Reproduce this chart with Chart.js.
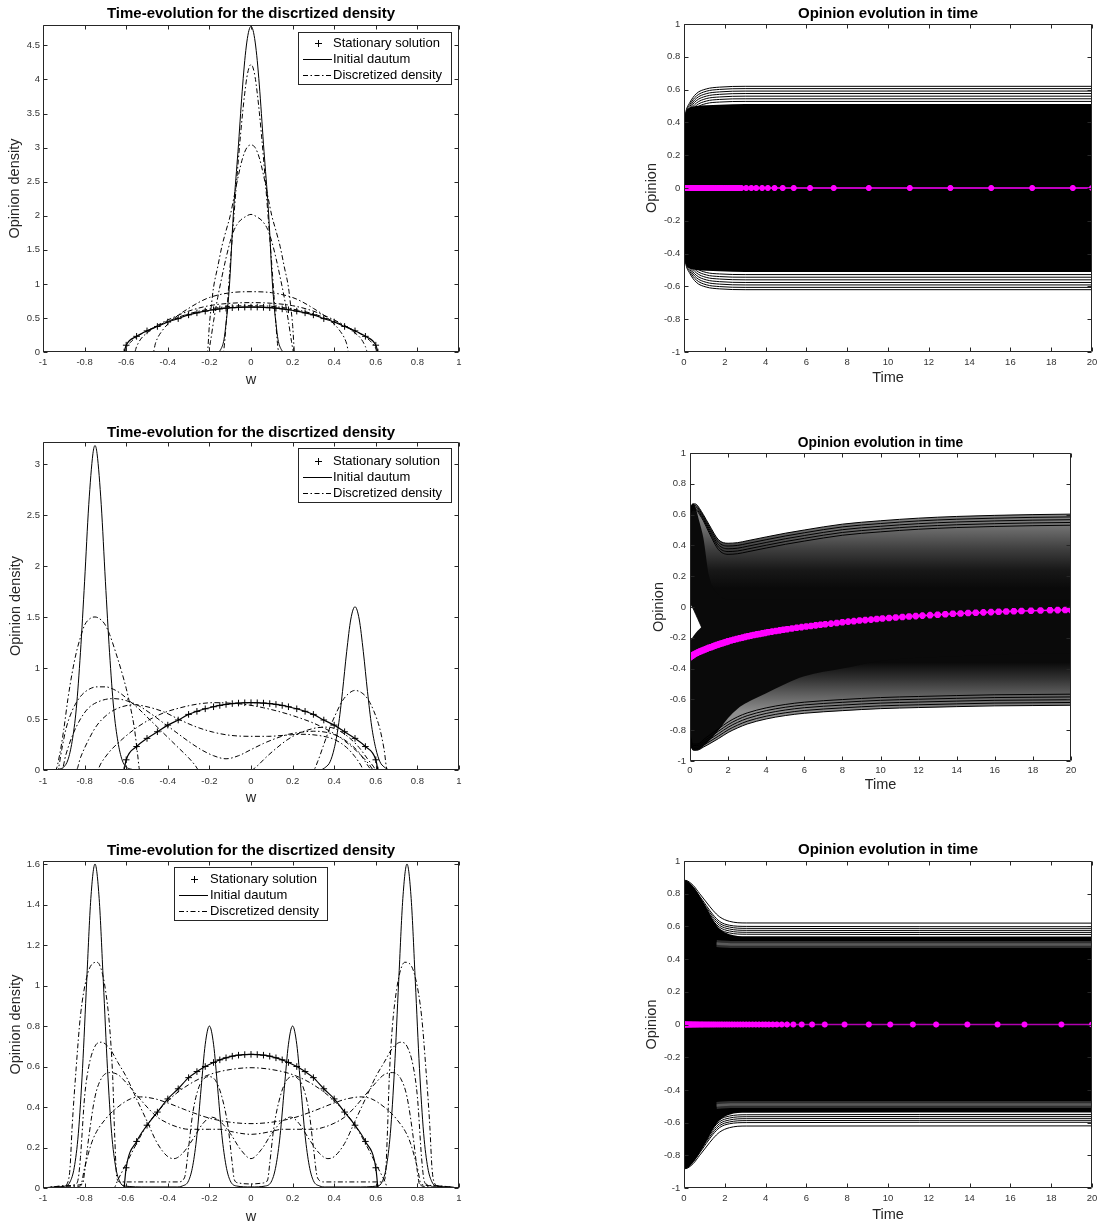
<!DOCTYPE html>
<html><head><meta charset="utf-8">
<script src="https://cdn.jsdelivr.net/npm/chart.js@4.4.1/dist/chart.umd.min.js"></script>
<style>
html,body{margin:0;padding:0;background:#fff;overflow:hidden;width:1097px;height:1226px;}
.p{position:absolute;} canvas{display:block;}
</style></head><body>
<div class="p" style="left:0;top:0"><canvas id="c1" width="470" height="395"></canvas></div>
<div class="p" style="left:620px;top:0"><canvas id="c2" width="477" height="395"></canvas></div>
<div class="p" style="left:0;top:417px"><canvas id="c3" width="470" height="396"></canvas></div>
<div class="p" style="left:620px;top:421px"><canvas id="c4" width="477" height="380"></canvas></div>
<div class="p" style="left:0;top:836px"><canvas id="c5" width="470" height="390"></canvas></div>
<div class="p" style="left:620px;top:836px"><canvas id="c6" width="477" height="390"></canvas></div>
<script>
// ---------------- text ----------------
const TITLE_LEFT = 'Time-evolution for the discrtized density';
const TITLE_RIGHT = 'Opinion evolution in time';
const LEG = ['Stationary solution', 'Initial dautum', 'Discretized density'];
const XLAB_LEFT = 'w', YLAB_LEFT = 'Opinion density', XLAB_RIGHT = 'Time', YLAB_RIGHT = 'Opinion';

// ---------------- left column data: [w, density] ----------------
const STAT = [[-0.61,0],[-0.6,0.1],[-0.55,0.23],[-0.5,0.31],[-0.45,0.375],[-0.4,0.44],[-0.35,0.49],[-0.3,0.545],[-0.26,0.575],[-0.22,0.6],[-0.18,0.62],[-0.15,0.633],[-0.12,0.643],[-0.09,0.651],[-0.06,0.656],[-0.03,0.659],[0,0.66],[0.03,0.659],[0.06,0.656],[0.09,0.651],[0.12,0.643],[0.15,0.633],[0.18,0.62],[0.22,0.6],[0.26,0.575],[0.3,0.545],[0.35,0.49],[0.4,0.44],[0.45,0.375],[0.5,0.31],[0.55,0.23],[0.6,0.1],[0.61,0]];

const P1_INIT = [[-1,0],[-0.2,0],[-0.16,0],[-0.145,0.04],[-0.13,0.18],[-0.12,0.42],[-0.11,0.72],[-0.1,1.15],[-0.09,1.75],[-0.08,2.25],[-0.07,2.65],[-0.06,3.05],[-0.05,3.5],[-0.04,3.92],[-0.03,4.28],[-0.02,4.55],[-0.01,4.72],[0,4.78],[0.01,4.72],[0.02,4.55],[0.03,4.28],[0.04,3.92],[0.05,3.5],[0.06,3.05],[0.07,2.65],[0.08,2.25],[0.09,1.75],[0.1,1.15],[0.11,0.72],[0.12,0.42],[0.13,0.18],[0.145,0.04],[0.16,0],[0.2,0],[1,0]];
const P1_D1 = [[-1,0],[-0.135,0],[-0.13,0.05],[-0.12,0.4],[-0.11,0.85],[-0.1,1.28],[-0.09,1.68],[-0.08,2.08],[-0.07,2.47],[-0.06,2.85],[-0.05,3.2],[-0.04,3.52],[-0.03,3.8],[-0.02,4.03],[-0.01,4.17],[0,4.22],[0.01,4.17],[0.02,4.03],[0.03,3.8],[0.04,3.52],[0.05,3.2],[0.06,2.85],[0.07,2.47],[0.08,2.08],[0.09,1.68],[0.1,1.28],[0.11,0.85],[0.12,0.4],[0.13,0.05],[0.135,0],[1,0]];
const P1_D2 = [[-1,0],[-0.21,0],[-0.2,0.4],[-0.19,0.7],[-0.18,0.95],[-0.16,1.25],[-0.14,1.55],[-0.12,1.78],[-0.1,2.0],[-0.08,2.3],[-0.06,2.6],[-0.04,2.85],[-0.02,3.0],[0,3.04],[0.02,3.0],[0.04,2.85],[0.06,2.6],[0.08,2.3],[0.1,2.0],[0.12,1.78],[0.14,1.55],[0.16,1.25],[0.18,0.95],[0.19,0.7],[0.2,0.4],[0.21,0],[1,0]];
const P1_D3 = [[-1,0],[-0.205,0],[-0.195,0.15],[-0.18,0.45],[-0.16,0.8],[-0.14,1.1],[-0.12,1.38],[-0.1,1.62],[-0.08,1.8],[-0.055,1.92],[-0.03,1.98],[0,2.02],[0.03,1.98],[0.055,1.92],[0.08,1.8],[0.1,1.62],[0.12,1.38],[0.14,1.1],[0.16,0.8],[0.18,0.45],[0.195,0.15],[0.205,0],[1,0]];
const P1_D4 = [[-1,0],[-0.47,0],[-0.46,0.12],[-0.45,0.2],[-0.43,0.3],[-0.4,0.41],[-0.35,0.54],[-0.3,0.64],[-0.25,0.73],[-0.2,0.8],[-0.1,0.87],[0,0.885],[0.1,0.87],[0.2,0.8],[0.25,0.73],[0.3,0.64],[0.35,0.54],[0.4,0.41],[0.43,0.3],[0.45,0.2],[0.46,0.12],[0.47,0],[1,0]];
const P1_D5 = [[-1,0],[-0.56,0],[-0.55,0.08],[-0.53,0.19],[-0.5,0.28],[-0.45,0.39],[-0.4,0.47],[-0.3,0.6],[-0.2,0.68],[-0.1,0.715],[0,0.725],[0.1,0.715],[0.2,0.68],[0.3,0.6],[0.4,0.47],[0.45,0.39],[0.5,0.28],[0.53,0.19],[0.55,0.08],[0.56,0],[1,0]];
const P1_D6 = [[-1,0],[-0.605,0],[-0.6,0.05],[-0.58,0.14],[-0.55,0.22],[-0.5,0.31],[-0.4,0.45],[-0.3,0.56],[-0.2,0.63],[-0.1,0.67],[0,0.68],[0.1,0.67],[0.2,0.63],[0.3,0.56],[0.4,0.45],[0.5,0.31],[0.55,0.22],[0.58,0.14],[0.6,0.05],[0.605,0],[1,0]];

const P3_INIT = [[-1,0],[-0.95,0],[-0.92,0.01],[-0.9,0.03],[-0.88,0.1],[-0.86,0.28],[-0.84,0.6],[-0.82,1.15],[-0.8,1.85],[-0.78,2.6],[-0.76,3.1],[-0.75,3.18],[-0.74,3.1],[-0.72,2.6],[-0.7,1.85],[-0.68,1.15],[-0.66,0.6],[-0.64,0.28],[-0.62,0.1],[-0.6,0.03],[-0.58,0.01],[-0.55,0],[0.33,0],[0.36,0.03],[0.38,0.08],[0.4,0.21],[0.42,0.43],[0.44,0.77],[0.46,1.16],[0.48,1.48],[0.5,1.6],[0.52,1.48],[0.54,1.16],[0.56,0.77],[0.58,0.43],[0.6,0.21],[0.62,0.08],[0.64,0.03],[0.67,0],[1,0]];
const P3_D1 = [[-1,0],[-0.94,0],[-0.92,0.15],[-0.9,0.4],[-0.88,0.7],[-0.86,0.95],[-0.84,1.15],[-0.82,1.3],[-0.8,1.42],[-0.77,1.49],[-0.75,1.5],[-0.72,1.47],[-0.7,1.42],[-0.68,1.33],[-0.65,1.15],[-0.62,0.95],[-0.6,0.8],[-0.58,0.62],[-0.56,0.4],[-0.545,0.15],[-0.535,0],[0.3,0],[0.32,0.08],[0.35,0.25],[0.38,0.42],[0.41,0.56],[0.44,0.68],[0.47,0.75],[0.5,0.78],[0.53,0.76],[0.56,0.7],[0.59,0.58],[0.62,0.4],[0.64,0.2],[0.655,0],[1,0]];
const P3_D2 = [[-1,0],[-0.93,0],[-0.91,0.2],[-0.89,0.4],[-0.86,0.58],[-0.82,0.72],[-0.78,0.79],[-0.74,0.815],[-0.7,0.815],[-0.66,0.79],[-0.62,0.74],[-0.58,0.67],[-0.54,0.6],[-0.5,0.52],[-0.45,0.42],[-0.4,0.32],[-0.35,0.22],[-0.3,0.12],[-0.27,0.05],[-0.25,0],[0,0],[0.03,0.04],[0.07,0.12],[0.12,0.21],[0.17,0.29],[0.22,0.35],[0.27,0.39],[0.32,0.415],[0.37,0.42],[0.42,0.39],[0.47,0.32],[0.52,0.22],[0.56,0.11],[0.59,0.03],[0.6,0],[1,0]];
const P3_D3 = [[-1,0],[-0.91,0],[-0.89,0.15],[-0.86,0.33],[-0.82,0.5],[-0.78,0.61],[-0.72,0.68],[-0.66,0.7],[-0.6,0.68],[-0.54,0.63],[-0.48,0.55],[-0.42,0.46],[-0.36,0.37],[-0.3,0.28],[-0.24,0.2],[-0.18,0.14],[-0.12,0.11],[-0.06,0.14],[0,0.2],[0.06,0.26],[0.12,0.31],[0.18,0.35],[0.24,0.37],[0.3,0.38],[0.36,0.37],[0.42,0.33],[0.48,0.25],[0.52,0.17],[0.55,0.08],[0.57,0.02],[0.58,0],[1,0]];
const P3_D4 = [[-1,0],[-0.84,0],[-0.82,0.12],[-0.78,0.3],[-0.74,0.44],[-0.68,0.56],[-0.62,0.62],[-0.56,0.64],[-0.5,0.62],[-0.42,0.57],[-0.34,0.49],[-0.26,0.42],[-0.18,0.37],[-0.1,0.34],[0,0.33],[0.08,0.33],[0.16,0.34],[0.24,0.35],[0.32,0.34],[0.4,0.3],[0.46,0.22],[0.5,0.13],[0.53,0.04],[0.54,0],[1,0]];
const P3_D5 = [[-1,0],[-0.74,0],[-0.72,0.07],[-0.68,0.18],[-0.62,0.3],[-0.56,0.4],[-0.5,0.48],[-0.42,0.56],[-0.34,0.61],[-0.26,0.645],[-0.18,0.66],[-0.1,0.655],[-0.02,0.64],[0.06,0.61],[0.14,0.57],[0.22,0.52],[0.3,0.46],[0.38,0.38],[0.44,0.3],[0.5,0.2],[0.54,0.12],[0.57,0.05],[0.59,0],[1,0]];

const P5_INIT = [[-1,0],[-0.95,0.005],[-0.89,0.01],[-0.87,0.03],[-0.85,0.1],[-0.83,0.27],[-0.81,0.59],[-0.79,1.02],[-0.77,1.43],[-0.75,1.6],[-0.73,1.43],[-0.71,1.02],[-0.69,0.59],[-0.67,0.27],[-0.65,0.1],[-0.63,0.03],[-0.61,0.01],[-0.5,0.005],[-0.36,0.005],[-0.33,0.01],[-0.3,0.036],[-0.28,0.11],[-0.26,0.26],[-0.24,0.49],[-0.22,0.71],[-0.2,0.8],[-0.18,0.71],[-0.16,0.49],[-0.14,0.26],[-0.12,0.11],[-0.1,0.036],[-0.07,0.01],[0,0.005],[0.07,0.01],[0.1,0.036],[0.12,0.11],[0.14,0.26],[0.16,0.49],[0.18,0.71],[0.2,0.8],[0.22,0.71],[0.24,0.49],[0.26,0.26],[0.28,0.11],[0.3,0.036],[0.33,0.01],[0.36,0.005],[0.5,0.005],[0.61,0.01],[0.63,0.03],[0.65,0.1],[0.67,0.27],[0.69,0.59],[0.71,1.02],[0.73,1.43],[0.75,1.6],[0.77,1.43],[0.79,1.02],[0.81,0.59],[0.83,0.27],[0.85,0.1],[0.87,0.03],[0.89,0.01],[0.95,0.005],[1,0]];
const P5_D1 = [[-1,0],[-0.9,0.01],[-0.88,0.03],[-0.87,0.1],[-0.86,0.3],[-0.84,0.6],[-0.82,0.85],[-0.79,1.04],[-0.76,1.11],[-0.74,1.115],[-0.72,1.08],[-0.7,0.98],[-0.68,0.8],[-0.665,0.55],[-0.655,0.25],[-0.645,0.05],[-0.63,0.03],[-0.35,0.03],[-0.32,0.05],[-0.3,0.2],[-0.28,0.37],[-0.25,0.5],[-0.22,0.545],[-0.2,0.55],[-0.17,0.53],[-0.14,0.45],[-0.11,0.3],[-0.09,0.12],[-0.08,0.04],[-0.06,0.025],[0,0.02],[0.06,0.025],[0.08,0.04],[0.09,0.12],[0.11,0.3],[0.14,0.45],[0.17,0.53],[0.2,0.55],[0.22,0.545],[0.25,0.5],[0.28,0.37],[0.3,0.2],[0.32,0.05],[0.35,0.03],[0.63,0.03],[0.645,0.05],[0.655,0.25],[0.665,0.55],[0.68,0.8],[0.7,0.98],[0.72,1.08],[0.74,1.115],[0.76,1.11],[0.79,1.04],[0.82,0.85],[0.84,0.6],[0.86,0.3],[0.87,0.1],[0.88,0.03],[0.9,0.01],[1,0]];
const P5_D2 = [[-1,0],[-0.9,0.01],[-0.84,0.02],[-0.83,0.05],[-0.82,0.15],[-0.8,0.45],[-0.78,0.6],[-0.75,0.7],[-0.72,0.72],[-0.68,0.69],[-0.64,0.62],[-0.6,0.55],[-0.55,0.44],[-0.5,0.33],[-0.45,0.22],[-0.4,0.155],[-0.37,0.145],[-0.33,0.17],[-0.28,0.24],[-0.23,0.32],[-0.19,0.35],[-0.15,0.33],[-0.1,0.27],[-0.05,0.19],[0,0.145],[0.05,0.19],[0.1,0.27],[0.15,0.33],[0.19,0.35],[0.23,0.32],[0.28,0.24],[0.33,0.17],[0.37,0.145],[0.4,0.155],[0.45,0.22],[0.5,0.33],[0.55,0.44],[0.6,0.55],[0.64,0.62],[0.68,0.69],[0.72,0.72],[0.75,0.7],[0.78,0.6],[0.8,0.45],[0.82,0.15],[0.83,0.05],[0.84,0.02],[0.9,0.01],[1,0]];
const P5_D3 = [[-1,0],[-0.9,0.01],[-0.81,0.02],[-0.8,0.08],[-0.78,0.25],[-0.75,0.45],[-0.72,0.54],[-0.68,0.57],[-0.64,0.56],[-0.6,0.52],[-0.55,0.46],[-0.5,0.4],[-0.45,0.35],[-0.4,0.32],[-0.35,0.3],[-0.3,0.29],[-0.2,0.29],[-0.15,0.29],[-0.1,0.28],[-0.05,0.27],[0,0.265],[0.05,0.27],[0.1,0.28],[0.15,0.29],[0.2,0.29],[0.3,0.29],[0.35,0.3],[0.4,0.32],[0.45,0.35],[0.5,0.4],[0.55,0.46],[0.6,0.52],[0.64,0.56],[0.68,0.57],[0.72,0.54],[0.75,0.45],[0.78,0.25],[0.8,0.08],[0.81,0.02],[0.9,0.01],[1,0]];
const P5_D4 = [[-1,0],[-0.9,0.005],[-0.82,0.01],[-0.8,0.1],[-0.76,0.24],[-0.7,0.34],[-0.64,0.4],[-0.58,0.44],[-0.53,0.45],[-0.46,0.44],[-0.4,0.42],[-0.3,0.38],[-0.2,0.345],[-0.1,0.325],[0,0.318],[0.1,0.325],[0.2,0.345],[0.3,0.38],[0.4,0.42],[0.46,0.44],[0.53,0.45],[0.58,0.44],[0.64,0.4],[0.7,0.34],[0.76,0.24],[0.8,0.1],[0.82,0.01],[0.9,0.005],[1,0]];
const P5_D5 = [[-1,0],[-0.66,0],[-0.64,0.04],[-0.6,0.12],[-0.55,0.22],[-0.5,0.31],[-0.4,0.43],[-0.3,0.51],[-0.2,0.56],[-0.1,0.585],[0,0.594],[0.1,0.585],[0.2,0.56],[0.3,0.51],[0.4,0.43],[0.5,0.31],[0.55,0.22],[0.6,0.12],[0.64,0.04],[0.66,0],[1,0]];

// ---------------- right column data: opinion trajectories ----------------
// panel 2 (top right)
const P2_T = [0, 0.03, 0.1, 0.28, 0.6, 1.09, 1.74, 3, 20];
const P2_UP = [
 [0.33,0.42,0.47,0.52,0.575,0.604,0.615,0.62,0.62],
 [0.32,0.41,0.46,0.508,0.56,0.59,0.601,0.606,0.606],
 [0.31,0.40,0.45,0.495,0.546,0.575,0.586,0.591,0.591],
 [0.30,0.39,0.44,0.483,0.532,0.56,0.571,0.576,0.576],
 [0.29,0.38,0.43,0.47,0.517,0.545,0.555,0.56,0.56],
 [0.28,0.37,0.42,0.458,0.503,0.53,0.54,0.544,0.544],
 [0.27,0.36,0.41,0.445,0.489,0.515,0.524,0.528,0.528]];
const P2_LO = [
 [-0.33,-0.42,-0.47,-0.52,-0.575,-0.604,-0.615,-0.62,-0.62],
 [-0.32,-0.41,-0.46,-0.508,-0.56,-0.59,-0.601,-0.606,-0.606],
 [-0.31,-0.40,-0.45,-0.495,-0.546,-0.575,-0.586,-0.591,-0.591],
 [-0.30,-0.39,-0.44,-0.483,-0.532,-0.56,-0.571,-0.576,-0.576],
 [-0.29,-0.38,-0.43,-0.47,-0.517,-0.545,-0.555,-0.56,-0.56],
 [-0.28,-0.37,-0.42,-0.458,-0.503,-0.53,-0.54,-0.544,-0.544],
 [-0.27,-0.36,-0.41,-0.445,-0.489,-0.515,-0.524,-0.528,-0.528]];
const P2_BAND_TOP = [0.33,0.42,0.465,0.49,0.5,0.505,0.508,0.512,0.512];
const P2_BAND_BOT = [-0.33,-0.42,-0.465,-0.49,-0.5,-0.505,-0.508,-0.512,-0.512];
const P2_MEAN = [[0,0],[0.02,0],[0.05,0],[0.08,0],[0.12,0],[0.16,0],[0.2,0],[0.25,0],[0.3,0],[0.35,0],[0.4,0],[0.46,0],[0.52,0],[0.58,0],[0.64,0],[0.7,0],[0.77,0],[0.84,0],[0.91,0],[0.98,0],[1.05,0],[1.13,0],[1.21,0],[1.29,0],[1.37,0],[1.45,0],[1.54,0],[1.63,0],[1.72,0],[1.81,0],[1.9,0],[2.0,0],[2.1,0],[2.2,0],[2.3,0],[2.4,0],[2.5,0],[2.6,0],[2.7,0],[2.81,0],[3.05,0],[3.3,0],[3.54,0],[3.83,0],[4.11,0],[4.44,0],[4.84,0],[5.38,0],[6.18,0],[7.34,0],[9.06,0],[11.07,0],[13.06,0],[15.06,0],[17.07,0],[19.06,0],[20,0]];

// panel 4 (middle right)
const P4_T = [0,0.1,0.2,0.35,0.5,0.7,1,1.5,2,2.5,3,4,5,6,8,10,12,14,16,18,20];
const P4_UP = [
 [0.64,0.665,0.67,0.665,0.64,0.60,0.535,0.436,0.414,0.418,0.43,0.455,0.479,0.50,0.538,0.56,0.577,0.588,0.595,0.6,0.603],
 [0.63,0.655,0.66,0.655,0.63,0.59,0.522,0.42,0.396,0.4,0.412,0.437,0.461,0.482,0.52,0.542,0.559,0.57,0.577,0.582,0.585],
 [0.62,0.645,0.65,0.645,0.62,0.58,0.509,0.404,0.378,0.382,0.394,0.419,0.443,0.464,0.502,0.524,0.541,0.552,0.559,0.564,0.567],
 [0.61,0.635,0.64,0.635,0.61,0.57,0.496,0.388,0.36,0.364,0.376,0.401,0.425,0.446,0.484,0.506,0.523,0.534,0.541,0.546,0.549],
 [0.6,0.625,0.63,0.625,0.6,0.56,0.483,0.372,0.342,0.346,0.358,0.383,0.407,0.428,0.466,0.488,0.505,0.516,0.523,0.528,0.531]];
const P4_LO = [
 [-0.86,-0.92,-0.93,-0.93,-0.925,-0.91,-0.89,-0.854,-0.815,-0.785,-0.76,-0.727,-0.705,-0.69,-0.673,-0.66,-0.653,-0.647,-0.642,-0.64,-0.638],
 [-0.85,-0.91,-0.92,-0.92,-0.915,-0.898,-0.876,-0.838,-0.798,-0.767,-0.742,-0.709,-0.687,-0.672,-0.655,-0.642,-0.635,-0.629,-0.624,-0.622,-0.62],
 [-0.84,-0.9,-0.91,-0.91,-0.905,-0.886,-0.862,-0.822,-0.781,-0.749,-0.724,-0.691,-0.669,-0.654,-0.637,-0.624,-0.617,-0.611,-0.606,-0.604,-0.602],
 [-0.83,-0.89,-0.9,-0.9,-0.895,-0.874,-0.848,-0.806,-0.764,-0.731,-0.706,-0.673,-0.651,-0.636,-0.619,-0.606,-0.599,-0.593,-0.588,-0.586,-0.584],
 [-0.82,-0.88,-0.89,-0.89,-0.885,-0.862,-0.834,-0.79,-0.747,-0.713,-0.688,-0.655,-0.633,-0.618,-0.601,-0.588,-0.581,-0.575,-0.57,-0.568,-0.566]];
const P4_CORE_TOP = [0.64,0.665,0.67,0.62,0.55,0.45,0.2,0.08,0.05,0.05,0.05,0.05,0.05,0.05,0.05,0.05,0.05,0.05,0.05,0.05,0.05];
const P4_CORE_BOT = [-0.86,-0.92,-0.93,-0.93,-0.925,-0.905,-0.87,-0.8,-0.72,-0.66,-0.62,-0.56,-0.5,-0.45,-0.4,-0.35,-0.33,-0.32,-0.31,-0.3,-0.3];
const P4_GAP_TOP = [[0,0.03],[0.2,-0.02],[0.4,-0.075],[0.6,-0.13]];
const P4_GAP_BOT = [[0,-0.22],[0.2,-0.185],[0.4,-0.155],[0.6,-0.13]];
const P4_MEAN = [[0,-0.327],[0.05,-0.322],[0.1,-0.317],[0.15,-0.313],[0.2,-0.309],[0.3,-0.302],[0.4,-0.296],[0.5,-0.29],[0.6,-0.285],[0.7,-0.28],[0.8,-0.275],[0.9,-0.27],[1.0,-0.265],[1.1,-0.261],[1.2,-0.256],[1.3,-0.252],[1.4,-0.247],[1.5,-0.243],[1.6,-0.239],[1.7,-0.235],[1.8,-0.231],[1.9,-0.227],[2.0,-0.223],[2.15,-0.218],[2.3,-0.213],[2.45,-0.208],[2.6,-0.203],[2.75,-0.199],[2.9,-0.194],[3.05,-0.19],[3.2,-0.186],[3.35,-0.182],[3.5,-0.178],[3.65,-0.175],[3.8,-0.171],[3.95,-0.168],[4.1,-0.164],[4.3,-0.16],[4.5,-0.156],[4.7,-0.152],[4.9,-0.148],[5.1,-0.144],[5.35,-0.14],[5.6,-0.135],[5.85,-0.131],[6.1,-0.127],[6.35,-0.123],[6.6,-0.119],[6.85,-0.115],[7.1,-0.112],[7.4,-0.108],[7.7,-0.104],[8.0,-0.099],[8.3,-0.095],[8.6,-0.092],[8.9,-0.088],[9.2,-0.085],[9.5,-0.082],[9.8,-0.078],[10.1,-0.075],[10.45,-0.071],[10.8,-0.068],[11.15,-0.065],[11.5,-0.062],[11.85,-0.059],[12.2,-0.056],[12.6,-0.053],[13.0,-0.05],[13.4,-0.047],[13.8,-0.044],[14.2,-0.042],[14.6,-0.039],[15.0,-0.037],[15.4,-0.035],[15.8,-0.033],[16.2,-0.031],[16.6,-0.029],[17.0,-0.028],[17.4,-0.026],[17.9,-0.024],[18.4,-0.023],[18.9,-0.021],[19.3,-0.02],[19.7,-0.019],[20.0,-0.019]];

// panel 6 (bottom right)
const P6_T = [0, 0.05, 0.44, 0.77, 1.09, 1.42, 1.75, 2.23, 3.05, 20];
const P6_UP = [
 [0.87,0.882,0.852,0.80,0.749,0.698,0.658,0.631,0.621,0.62],
 [0.86,0.872,0.84,0.785,0.728,0.672,0.63,0.607,0.6,0.598],
 [0.855,0.866,0.832,0.776,0.716,0.66,0.618,0.596,0.588,0.586],
 [0.85,0.86,0.825,0.767,0.705,0.648,0.606,0.584,0.576,0.574],
 [0.845,0.854,0.818,0.758,0.694,0.636,0.594,0.572,0.564,0.562],
 [0.84,0.848,0.81,0.749,0.683,0.624,0.582,0.56,0.552,0.55]];
const P6_LO = [
 [-0.87,-0.882,-0.852,-0.80,-0.749,-0.698,-0.658,-0.631,-0.621,-0.62],
 [-0.86,-0.872,-0.84,-0.785,-0.728,-0.672,-0.63,-0.607,-0.6,-0.598],
 [-0.855,-0.866,-0.832,-0.776,-0.716,-0.66,-0.618,-0.596,-0.588,-0.586],
 [-0.85,-0.86,-0.825,-0.767,-0.705,-0.648,-0.606,-0.584,-0.576,-0.574],
 [-0.845,-0.854,-0.818,-0.758,-0.694,-0.636,-0.594,-0.572,-0.564,-0.562],
 [-0.84,-0.848,-0.81,-0.749,-0.683,-0.624,-0.582,-0.56,-0.552,-0.55]];
const P6_BAND_TOP = [0.87,0.882,0.845,0.785,0.715,0.64,0.585,0.552,0.54,0.538];
const P6_BAND_BOT = [-0.87,-0.882,-0.845,-0.785,-0.715,-0.64,-0.585,-0.552,-0.54,-0.538];
const P6_TONGUE_UP = [[1.6,0.495],[2.3,0.49],[20,0.49]];
const P6_TONGUE_LO = [[1.6,-0.495],[2.3,-0.49],[20,-0.49]];
const P6_MEAN = [[0,0],[0.02,0],[0.05,0],[0.08,0],[0.12,0],[0.16,0],[0.2,0],[0.25,0],[0.3,0],[0.35,0],[0.4,0],[0.46,0],[0.52,0],[0.58,0],[0.65,0],[0.72,0],[0.8,0],[0.88,0],[0.96,0],[1.05,0],[1.14,0],[1.23,0],[1.33,0],[1.43,0],[1.53,0],[1.64,0],[1.75,0],[1.86,0],[1.98,0],[2.1,0],[2.22,0],[2.35,0],[2.48,0],[2.62,0],[2.76,0],[2.9,0],[3.05,0],[3.2,0],[3.36,0],[3.52,0],[3.68,0],[3.85,0],[4.0,0],[4.16,0],[4.35,0],[4.55,0],[4.79,0],[5.05,0],[5.36,0],[5.77,0],[6.28,0],[6.9,0],[7.87,0],[9.06,0],[10.11,0],[11.22,0],[12.36,0],[13.89,0],[15.37,0],[16.69,0],[18.5,0],[20,0]];

// ---------------- styles ----------------
const FONT = '"Liberation Sans", Arial, Helvetica, sans-serif';
Chart.defaults.font.family = FONT;
const DASHDOT = [5, 2.5, 1.5, 2.5];
const NONE = 'rgba(0,0,0,0)';
// vertical shading of the trajectory bundle in panel 4 (opinion level -> grey)
const P4_SHADE = [[0.68,'#9a9a9a'],[0.52,'#707070'],[0.38,'#404040'],[0.24,'#181818'],[0.12,'#0a0a0a'],[-0.36,'#0a0a0a'],[-0.46,'#303030'],[-0.56,'#5c5c5c'],[-0.68,'#8e8e8e']];

// ---------------- helpers ----------------
function fmt(v){ const r = Math.round(v*1000)/1000; return String(r === 0 ? 0 : r); }
function pts(a){ return a.map(p => ({x:p[0], y:p[1]})); }
function zip(ts, vs){ return ts.map((t,i) => ({x:t, y:vs[i]})); }
function line(data, o){
  return Object.assign({data, showLine:true, pointRadius:0, pointHoverRadius:0, borderColor:'#000', borderWidth:1,
    backgroundColor:'#000', fill:false, cubicInterpolationMode:'monotone', order:50}, o || {});
}
function band(top, bot, color, order){
  return [line(top, {fill:'+1', backgroundColor:color, borderColor:NONE, borderWidth:1, order}),
          line(bot, {fill:false, borderColor:NONE, borderWidth:1, order})];
}
function mean(data, r, bw, lineColor){
  return line(pts(data), {borderColor:lineColor, borderWidth:1.5, pointRadius:r, pointStyle:'star',
    pointBorderColor:'#ff00ff', pointBackgroundColor:'#ff00ff', pointBorderWidth:bw,
    cubicInterpolationMode:'default', tension:0, order:1});
}
function shade(stops){
  return function(context){
    const chart = context.chart; const {ctx, chartArea, scales} = chart;
    if (!chartArea || !scales.y) return '#404040';
    const y = scales.y;
    const y0 = y.getPixelForValue(stops[0][0]), y1 = y.getPixelForValue(stops[stops.length-1][0]);
    const g = ctx.createLinearGradient(0, y0, 0, y1);
    stops.forEach(([v, c]) => g.addColorStop(Math.min(1, Math.max(0, (y.getPixelForValue(v)-y0)/(y1-y0))), c));
    return g;
  };
}

const boxPlugin = {
  id:'mbox',
  afterDraw(chart){
    const {ctx, chartArea:a, scales:{x, y}} = chart;
    ctx.save();
    ctx.strokeStyle = '#262626'; ctx.lineWidth = 1;
    const L = Math.round(a.left)+0.5, R = Math.round(a.right)-0.5, T = Math.round(a.top)+0.5, B = Math.round(a.bottom)-0.5;
    const tl = 4;
    ctx.beginPath();
    ctx.rect(L, T, R-L, B-T);
    x.ticks.forEach(t => { const p = Math.round(x.getPixelForValue(t.value))+0.5; ctx.moveTo(p,B); ctx.lineTo(p,B-tl); ctx.moveTo(p,T); ctx.lineTo(p,T+tl); });
    y.ticks.forEach(t => { const p = Math.round(y.getPixelForValue(t.value))+0.5; ctx.moveTo(L,p); ctx.lineTo(L+tl,p); ctx.moveTo(R,p); ctx.lineTo(R-tl,p); });
    ctx.stroke();
    ctx.restore();
  }
};
const legPlugin = {
  id:'mleg',
  afterDraw(chart, args, o){
    if (!o || !o.box) return;
    const ctx = chart.ctx; const [bx, by, bw, bh] = o.box;
    ctx.save();
    ctx.fillStyle = '#fff'; ctx.fillRect(bx, by, bw, bh);
    ctx.strokeStyle = '#262626'; ctx.lineWidth = 1; ctx.strokeRect(bx+0.5, by+0.5, bw, bh);
    ctx.font = '13px ' + FONT; ctx.textBaseline = 'middle'; ctx.textAlign = 'left';
    o.items.forEach((it, i) => {
      const yy = Math.round(by + o.row0 + i*o.rowH) + 0.5;
      const x0 = bx + o.sx, x1 = bx + o.sx + o.sw;
      ctx.strokeStyle = '#000'; ctx.lineWidth = 1;
      if (it.kind === 'marker') {
        const cx = Math.round((x0+x1)/2)+0.5;
        ctx.setLineDash([]); ctx.beginPath();
        ctx.moveTo(cx-3.5, yy); ctx.lineTo(cx+3.5, yy); ctx.moveTo(cx, yy-3.5); ctx.lineTo(cx, yy+3.5); ctx.stroke();
      } else {
        ctx.setLineDash(it.dash || []); ctx.beginPath(); ctx.moveTo(x0, yy); ctx.lineTo(x1, yy); ctx.stroke(); ctx.setLineDash([]);
      }
      ctx.fillStyle = '#000';
      ctx.fillText(it.text, bx + o.tx, yy);
    });
    ctx.restore();
  }
};
const LEG_ITEMS = [{kind:'marker', text:LEG[0]}, {kind:'line', text:LEG[1]}, {kind:'line', dash:DASHDOT, text:LEG[2]}];

function build(id, g, datasets, sc, legend){
  const lh = g.ts * 1.2;
  return new Chart(document.getElementById(id), {
    type:'scatter',
    data:{datasets},
    options:{
      responsive:false, animation:false, devicePixelRatio:1, events:[],
      layout:{padding:{left:0, top:0, right:g.padR, bottom:0}},
      plugins:{
        legend:{display:false}, tooltip:{enabled:false},
        title:{display:true, fullSize:false, text:g.title, color:'#000',
          font:{size:g.ts, weight:'bold', family:FONT, lineHeight:1.2},
          padding:{top:g.ta, bottom:g.padT - lh - g.ta}},
        mleg: legend || {}
      },
      scales:{
        x:{type:'linear', position:'bottom', min:sc.xmin, max:sc.xmax,
          ticks:{stepSize:sc.xstep, includeBounds:false, autoSkip:false, maxRotation:0, minRotation:0,
                 padding:g.xtp, color:'#333', font:{size:9.5, family:FONT}, callback:fmt},
          grid:{display:false, drawTicks:false}, border:{display:false},
          title:{display:true, text:sc.xtitle, color:'#262626', font:{size:14.5, family:FONT, lineHeight:1.2}, padding:{top:0, bottom:g.xpb}},
          afterFit(s){ s.height = g.padB; s.paddingLeft = 0; s.paddingRight = 0; }},
        y:{type:'linear', position:'left', min:sc.ymin, max:sc.ymax,
          ticks:{stepSize:sc.ystep, includeBounds:false, autoSkip:false, padding:g.ytp, color:'#333',
                 font:{size:9.5, family:FONT}, callback:fmt},
          grid:{display:false, drawTicks:false}, border:{display:false},
          title:{display:true, text:sc.ytitle, color:'#262626', font:{size:14.5, family:FONT, lineHeight:1.2}, padding:{top:g.ypt, bottom:0}},
          afterFit(s){ s.width = g.padL; s.paddingTop = 0; s.paddingBottom = 0; }}
      }
    },
    plugins:[boxPlugin, legPlugin]
  });
}

function leftSets(init, dds){
  const s = [];
  s.push(line(pts(STAT), {label:LEG[0], pointStyle:'cross', pointRadius:3.3, pointBorderWidth:1, pointBorderColor:'#000', borderWidth:1.2, order:10}));
  s.push(line(pts(init), {label:LEG[1], borderWidth:1, order:20}));
  dds.forEach(d => s.push(line(pts(d), {label:LEG[2], borderDash:DASHDOT, borderWidth:1, order:30})));
  return s;
}
const SC_LEFT = (ymax, ystep) => ({xmin:-1, xmax:1, xstep:0.2, ymin:0, ymax, ystep, xtitle:XLAB_LEFT, ytitle:YLAB_LEFT});
const SC_RIGHT = {xmin:0, xmax:20, xstep:2, ymin:-1, ymax:1, ystep:0.2, xtitle:XLAB_RIGHT, ytitle:YLAB_RIGHT};

// ---------- panel 1 ----------
build('c1', {title:TITLE_LEFT, ts:15, ta:5, padT:25, padL:43, padR:11, padB:43, xtp:5, ytp:3, xpb:6.3, ypt:6.3},
  leftSets(P1_INIT, [P1_D1, P1_D2, P1_D3, P1_D4, P1_D5, P1_D6]), SC_LEFT(4.8, 0.5),
  {box:[298, 32, 153, 52], items:LEG_ITEMS, row0:11, rowH:16, sx:5, sw:29, tx:35});

// ---------- panel 3 ----------
build('c3', {title:TITLE_LEFT, ts:15, ta:6.7, padT:25, padL:43, padR:11, padB:43, xtp:5.3, ytp:3, xpb:6.3, ypt:7},
  leftSets(P3_INIT, [P3_D1, P3_D2, P3_D3, P3_D4, P3_D5]), SC_LEFT(3.215, 0.5),
  {box:[298, 31, 153, 54], items:LEG_ITEMS, row0:12.5, rowH:16, sx:5, sw:29, tx:35});

// ---------- panel 5 ----------
build('c5', {title:TITLE_LEFT, ts:15, ta:5.7, padT:25, padL:43, padR:11, padB:38, xtp:4.3, ytp:3, xpb:0.6, ypt:7},
  leftSets(P5_INIT, [P5_D1, P5_D2, P5_D3, P5_D4, P5_D5]), SC_LEFT(1.615, 0.2),
  {box:[174, 31, 153, 53], items:LEG_ITEMS, row0:12, rowH:16, sx:5, sw:29, tx:36});

// ---------- panel 2 ----------
(function(){
  const s = [];
  s.push(...band(zip(P2_T, P2_BAND_TOP), zip(P2_T, P2_BAND_BOT), '#000', 100));
  P2_UP.forEach(v => s.push(line(zip(P2_T, v), {borderWidth:1, order:50})));
  P2_LO.forEach(v => s.push(line(zip(P2_T, v), {borderWidth:1, order:50})));
  s.push(mean(P2_MEAN, 3, 2, '#ff00ff'));
  build('c2', {title:TITLE_RIGHT, ts:15, ta:5, padT:24, padL:64, padR:4, padB:43, xtp:5, ytp:3.7, xpb:8.3, ypt:23}, s, SC_RIGHT);
})();

// ---------- panel 4 ----------
(function(){
  const s = [];
  s.push(...band(zip(P4_T, P4_UP[0]), zip(P4_T, P4_LO[0]), shade(P4_SHADE), 100));
  s.push(...band(zip(P4_T, P4_CORE_TOP), zip(P4_T, P4_CORE_BOT), '#0a0a0a', 80));
  s.push(...band(pts(P4_GAP_TOP), pts(P4_GAP_BOT), '#ffffff', 70));
  s.push(line(pts(P4_GAP_TOP), {borderWidth:0.8, order:60}));
  P4_UP.forEach(v => s.push(line(zip(P4_T, v), {borderWidth:1, order:50})));
  P4_LO.forEach(v => s.push(line(zip(P4_T, v), {borderWidth:1, order:50})));
  s.push(mean(P4_MEAN, 3.3, 2.5, '#ff00ff'));
  build('c4', {title:TITLE_RIGHT, ts:13.8, ta:13.7, padT:32, padL:70, padR:26, padB:40, xtp:3.3, ytp:4, xpb:7.3, ypt:30.3}, s, SC_RIGHT);
})();

// ---------- panel 6 ----------
(function(){
  const s = [];
  s.push(...band(zip(P6_T, P6_BAND_TOP), zip(P6_T, P6_BAND_BOT), '#000', 100));
  s.push(line(pts(P6_TONGUE_UP), {borderColor:'#2e2e2e', borderWidth:7, order:45}));
  s.push(line(pts(P6_TONGUE_LO), {borderColor:'#2e2e2e', borderWidth:7, order:45}));
  s.push(line(pts(P6_TONGUE_UP), {borderColor:'#5a5a5a', borderWidth:2.5, order:44}));
  s.push(line(pts(P6_TONGUE_LO), {borderColor:'#5a5a5a', borderWidth:2.5, order:44}));
  P6_UP.forEach(v => s.push(line(zip(P6_T, v), {borderWidth:1, order:50})));
  P6_LO.forEach(v => s.push(line(zip(P6_T, v), {borderWidth:1, order:50})));
  s.push(mean(P6_MEAN, 3, 2, '#b000b0'));
  build('c6', {title:TITLE_RIGHT, ts:15, ta:5, padT:25, padL:64, padR:4, padB:38, xtp:4.3, ytp:3.7, xpb:2.3, ypt:23}, s, SC_RIGHT);
})();
</script>
</body></html>
